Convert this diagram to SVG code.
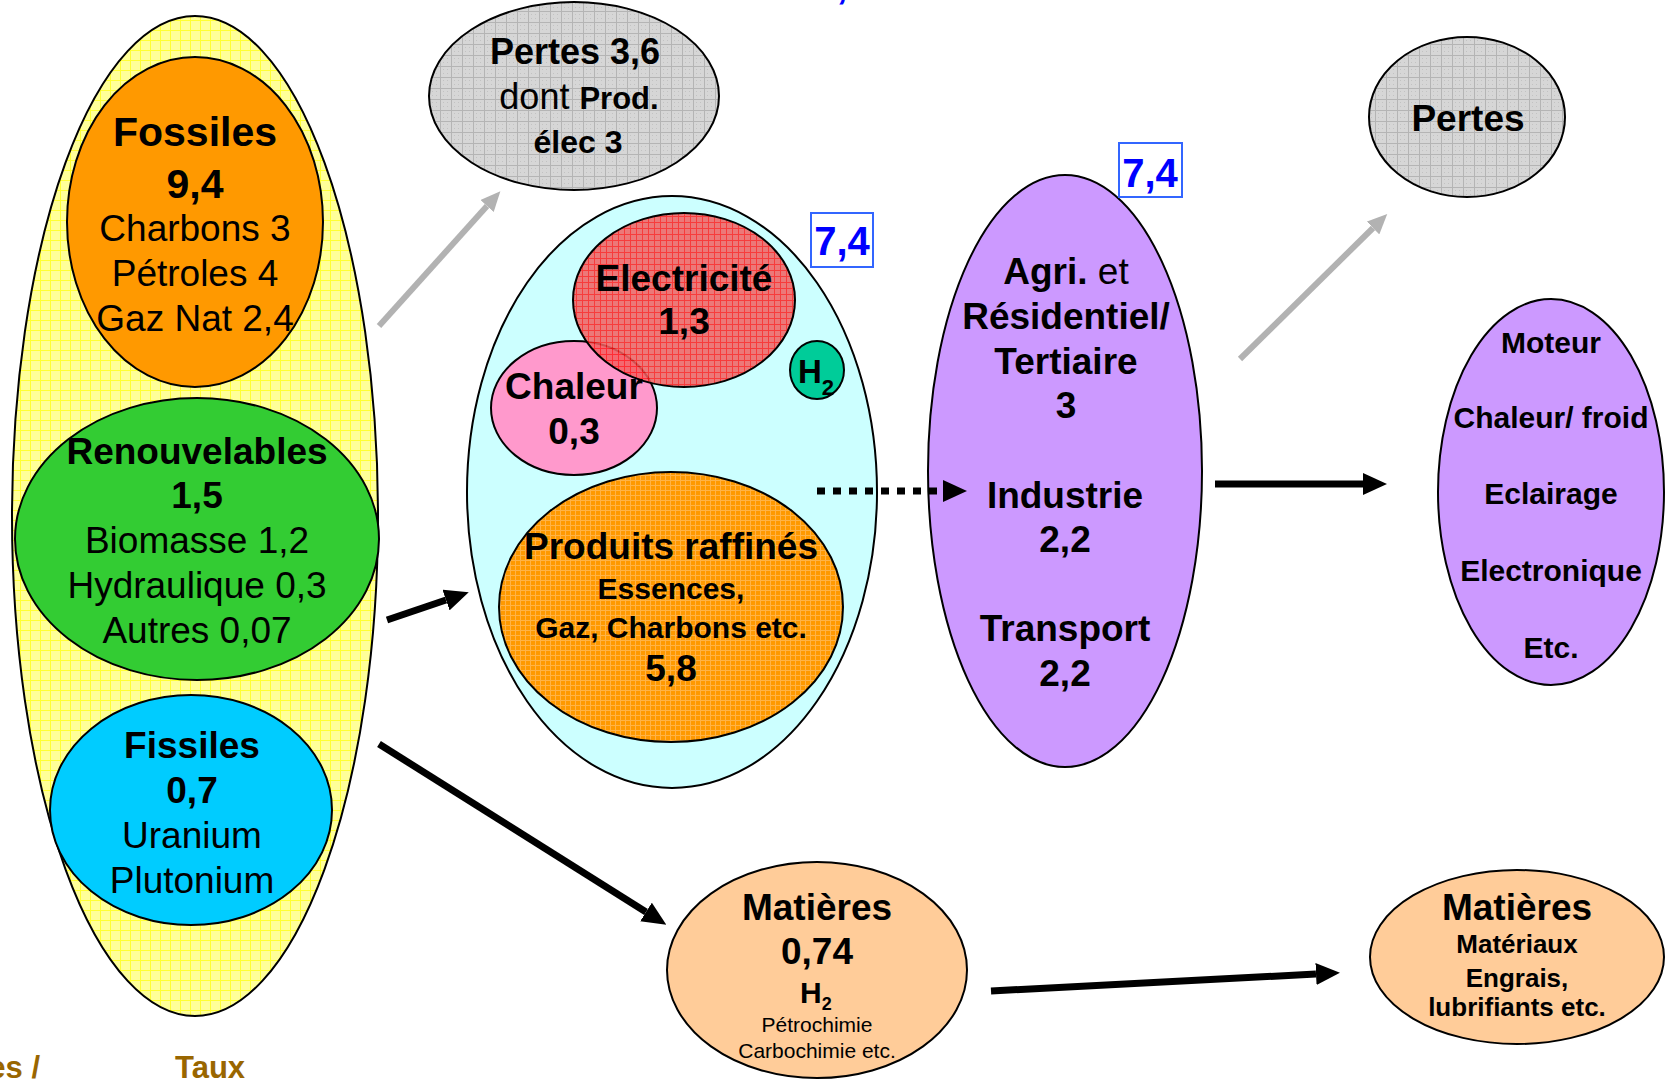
<svg xmlns="http://www.w3.org/2000/svg" width="1674" height="1080" viewBox="0 0 1674 1080">
  <defs>
    <!-- hatched fills -->
    <pattern id="gridYellow" width="10" height="10" patternUnits="userSpaceOnUse">
      <rect width="10" height="10" fill="#FFFF99"/>
      <path d="M0 0.5H10M0.5 0V10" stroke="#FFFF33" stroke-width="1"/>
    </pattern>
    <pattern id="gridGrey" width="11" height="11" patternUnits="userSpaceOnUse">
      <rect width="11" height="11" fill="#D6D6D6"/>
      <path d="M0 0.5H11M0.5 0V11" stroke="#B4B4B4" stroke-width="1"/>
      <path d="M3 3h1v1h-1zM7 7h1v1h-1zM7 3h1v1h-1zM3 7h1v1h-1z" fill="#C2C2C2"/>
    </pattern>
    <pattern id="gridRed" width="6" height="6" patternUnits="userSpaceOnUse">
      <rect width="6" height="6" fill="#F26060"/>
      <path d="M0 0.5H6M0.5 0V6" stroke="#FF1A1A" stroke-width="1"/>
    </pattern>
    <pattern id="gridOrange" width="5" height="5" patternUnits="userSpaceOnUse">
      <rect width="5" height="5" fill="#FF9900"/>
      <path d="M0 0.5H5M0.5 0V5" stroke="#FFB347" stroke-width="1"/>
    </pattern>
    <marker id="headBlack" markerUnits="userSpaceOnUse" markerWidth="24" markerHeight="22" refX="0" refY="11" orient="auto">
      <path d="M0,0 L24,11 L0,22 Z" fill="#000"/>
    </marker>
    <marker id="headGrey" markerUnits="userSpaceOnUse" markerWidth="20" markerHeight="18" refX="0" refY="9" orient="auto">
      <path d="M0,0 L20,9 L0,18 Z" fill="#B2B2B2"/>
    </marker>
    <style>
      .t { font-family: "Liberation Sans", Arial, Helvetica, sans-serif; text-anchor: middle; fill: #000; }
      .b { font-weight: bold; }
      .node { stroke: #000; stroke-width: 2; }
      .conn { fill: none; stroke: #000; stroke-width: 7; }
      .loss { fill: none; stroke: #B2B2B2; stroke-width: 6; }
      .box { fill: #FFFFFF; stroke: #3366FF; stroke-width: 2; }
      .blue { fill: #0000FF; font-weight: bold; font-size: 40px; }
      .brown { fill: #996600; font-weight: bold; font-size: 31px; }
    </style>
  </defs>

  <rect width="1674" height="1080" fill="#FFFFFF"/>

  <!-- stray labels at the page edges -->
  <text class="t blue" x="842" y="-2">,</text>
  <text class="t brown" x="40" y="1078" style="text-anchor:end">es /</text>
  <text class="t brown" x="175" y="1078" style="text-anchor:start">Taux</text>

  <!-- primary sources -->
  <g id="sources">
    <ellipse class="node" cx="195" cy="516" rx="183" ry="500" fill="url(#gridYellow)" stroke-width="3"/>
    <g id="fossiles">
      <ellipse class="node" cx="195" cy="222" rx="128" ry="165" fill="#FF9900"/>
      <text class="t b" x="195" y="146" font-size="41">Fossiles</text>
      <text class="t b" x="195" y="198" font-size="41">9,4</text>
      <text class="t" x="195" y="241" font-size="37">Charbons 3</text>
      <text class="t" x="195" y="286" font-size="37">Pétroles 4</text>
      <text class="t" x="195" y="331" font-size="37">Gaz Nat 2,4</text>
    </g>
    <g id="renouvelables">
      <ellipse class="node" cx="197" cy="539" rx="182" ry="141" fill="#33CC33"/>
      <text class="t b" x="197" y="464" font-size="37">Renouvelables</text>
      <text class="t b" x="197" y="508" font-size="37">1,5</text>
      <text class="t" x="197" y="553" font-size="37">Biomasse 1,2</text>
      <text class="t" x="197" y="598" font-size="37">Hydraulique 0,3</text>
      <text class="t" x="197" y="643" font-size="37">Autres 0,07</text>
    </g>
    <g id="fissiles">
      <ellipse class="node" cx="191" cy="810" rx="141" ry="115" fill="#00CCFF"/>
      <text class="t b" x="192" y="758" font-size="37">Fissiles</text>
      <text class="t b" x="192" y="803" font-size="37">0,7</text>
      <text class="t" x="192" y="848" font-size="37">Uranium</text>
      <text class="t" x="192" y="893" font-size="37">Plutonium</text>
    </g>
  </g>

  <!-- conversion losses -->
  <g id="pertes-conversion">
    <ellipse class="node" cx="574" cy="96" rx="145" ry="94" fill="url(#gridGrey)"/>
    <text class="t b" x="575" y="64" font-size="36">Pertes 3,6</text>
    <text class="t" x="579" y="109" font-size="36">dont <tspan class="b" font-size="31">Prod.</tspan></text>
    <text class="t b" x="578" y="153" font-size="32">élec 3</text>
  </g>

  <!-- final energy carriers -->
  <g id="vecteurs">
    <ellipse class="node" cx="672" cy="492" rx="205" ry="296" fill="#CCFFFF"/>
    <g id="chaleur">
      <ellipse class="node" cx="574" cy="408" rx="83" ry="67" fill="#FF99CC"/>
    </g>
    <g id="electricite">
      <ellipse class="node" cx="684" cy="300" rx="111" ry="87" fill="url(#gridRed)" fill-opacity="0.85"/>
      <text class="t b" x="684" y="291" font-size="37">Electricité</text>
      <text class="t b" x="684" y="334" font-size="37">1,3</text>
    </g>
    <text class="t b" x="574" y="399" font-size="37">Chaleur</text>
    <text class="t b" x="574" y="444" font-size="37">0,3</text>
    <g id="h2">
      <ellipse class="node" cx="817" cy="370" rx="27" ry="29" fill="#00CC99"/>
      <text class="t b" x="798" y="383" font-size="33" style="text-anchor:start">H<tspan font-size="22" dy="12">2</tspan></text>
    </g>
    <g id="produits">
      <ellipse class="node" cx="671" cy="607" rx="172" ry="135" fill="url(#gridOrange)"/>
      <text class="t b" x="671" y="559" font-size="37">Produits raffinés</text>
      <text class="t b" x="671" y="599" font-size="30">Essences,</text>
      <text class="t b" x="671" y="638" font-size="30">Gaz, Charbons etc.</text>
      <text class="t b" x="671" y="681" font-size="37">5,8</text>
    </g>
    <g id="total-vecteurs">
      <rect class="box" x="811" y="213" width="62" height="54"/>
      <text class="t blue" x="842" y="255">7,4</text>
    </g>
  </g>

  <!-- end-use sectors -->
  <g id="secteurs">
    <ellipse class="node" cx="1065" cy="471" rx="137" ry="296" fill="#CC99FF"/>
    <text class="t" x="1066" y="284" font-size="37"><tspan class="b">Agri.</tspan> et</text>
    <text class="t b" x="1066" y="329" font-size="37">Résidentiel/</text>
    <text class="t b" x="1066" y="374" font-size="37">Tertiaire</text>
    <text class="t b" x="1066" y="418" font-size="37">3</text>
    <text class="t b" x="1065" y="508" font-size="37">Industrie</text>
    <text class="t b" x="1065" y="552" font-size="37">2,2</text>
    <text class="t b" x="1065" y="641" font-size="37">Transport</text>
    <text class="t b" x="1065" y="686" font-size="37">2,2</text>
    <g id="total-secteurs">
      <rect class="box" x="1119" y="143" width="63" height="54"/>
      <text class="t blue" x="1150" y="187">7,4</text>
    </g>
  </g>

  <!-- end-use losses -->
  <g id="pertes-usage">
    <ellipse class="node" cx="1467" cy="117" rx="98" ry="80" fill="url(#gridGrey)"/>
    <text class="t b" x="1468" y="131" font-size="37">Pertes</text>
  </g>

  <!-- services -->
  <g id="services">
    <ellipse class="node" cx="1551" cy="492" rx="113" ry="193" fill="#CC99FF"/>
    <text class="t b" x="1551" y="353" font-size="30">Moteur</text>
    <text class="t b" x="1551" y="428" font-size="30">Chaleur/ froid</text>
    <text class="t b" x="1551" y="504" font-size="30">Eclairage</text>
    <text class="t b" x="1551" y="581" font-size="30">Electronique</text>
    <text class="t b" x="1551" y="658" font-size="30">Etc.</text>
  </g>

  <!-- feedstock -->
  <g id="matieres">
    <ellipse class="node" cx="817" cy="970" rx="150" ry="108" fill="#FFCC99"/>
    <text class="t b" x="817" y="920" font-size="37">Matières</text>
    <text class="t b" x="817" y="964" font-size="37">0,74</text>
    <text class="t b" x="800" y="1003" font-size="30" style="text-anchor:start">H<tspan font-size="18" dy="7">2</tspan></text>
    <text class="t" x="817" y="1032" font-size="21">Pétrochimie</text>
    <text class="t" x="817" y="1058" font-size="21">Carbochimie etc.</text>
  </g>

  <!-- material products -->
  <g id="produits-matieres">
    <ellipse class="node" cx="1517" cy="957" rx="147" ry="87" fill="#FFCC99"/>
    <text class="t b" x="1517" y="920" font-size="37">Matières</text>
    <text class="t b" x="1517" y="953" font-size="26">Matériaux</text>
    <text class="t b" x="1517" y="987" font-size="26">Engrais,</text>
    <text class="t b" x="1517" y="1016" font-size="26">lubrifiants etc.</text>
  </g>

  <!-- flows -->
  <g id="connectors">
    <line class="loss" x1="379" y1="326" x2="487" y2="206" marker-end="url(#headGrey)"/>
    <line class="loss" x1="1240" y1="359" x2="1373" y2="228" marker-end="url(#headGrey)"/>
    <line class="conn" x1="387" y1="620" x2="446" y2="600" marker-end="url(#headBlack)"/>
    <line class="conn" x1="379" y1="744" x2="646" y2="912" marker-end="url(#headBlack)"/>
    <line class="conn" x1="991" y1="991" x2="1316" y2="974" marker-end="url(#headBlack)"/>
    <line class="conn" x1="1215" y1="484" x2="1363" y2="484" marker-end="url(#headBlack)"/>
    <line class="conn" x1="817" y1="491" x2="943" y2="491" stroke-dasharray="8 8" marker-end="url(#headBlack)"/>
  </g>
</svg>
